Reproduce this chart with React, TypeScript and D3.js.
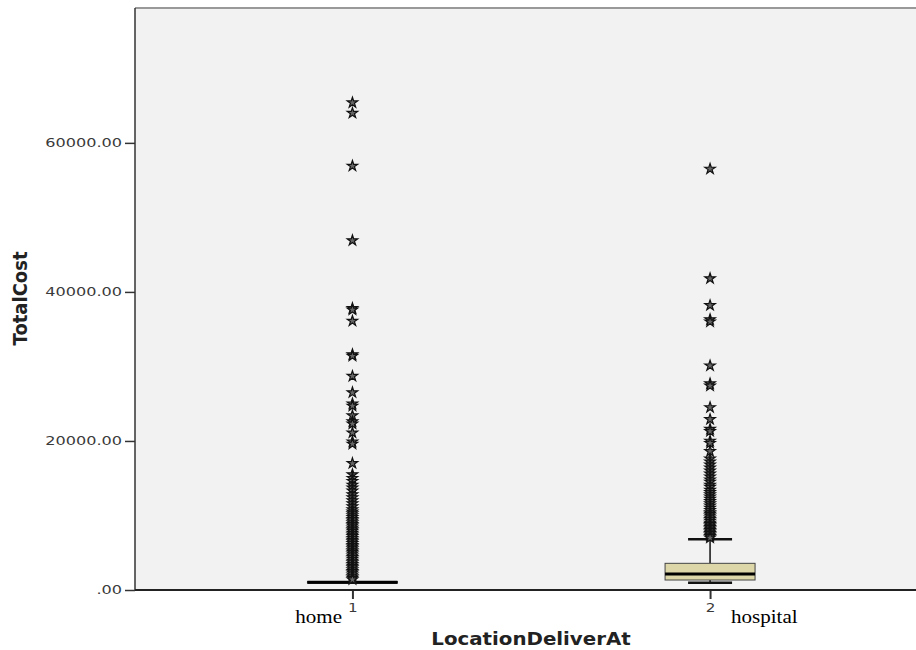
import React, { useEffect, useRef } from 'react';
import * as d3 from 'd3';

// group codes on the x axis and their hand-written names
const groups = ['1', '2'];
const groupNames = ['home', 'hospital'];

// box summaries (TotalCost)
const lowerWhisker = [1050, 980];
const quartile1 = [1050, 1340];
const medians = [1050, 2150];
const quartile3 = [1050, 3580];
const upperWhisker = [1050, 6800];

// extreme values (stars)
const homeExtremes = [
  65400, 64000, 56900, 46900, 37800, 37600, 36100, 31600, 31400, 28700, 26500,
  25000, 24700, 23400, 22600, 22300, 21100, 19900, 19600, 17000, 15500, 15000,
  14600, 14100, 13700, 13300, 12800, 12400, 12000, 11600, 11200, 10800, 10500,
  10250, 10000, 9750, 9500, 9300, 9050, 8800, 8600, 8350, 8100, 7900, 7650,
  7400, 7200, 6950, 6700, 6500, 6250, 6000, 5800, 5550, 5300, 5100, 4850, 4600,
  4400, 4150, 3900, 3700, 3450, 3200, 3000, 2750, 2500, 2300, 2050, 1800, 1600,
  1400,
];
const hospitalExtremes = [
  56500, 41800, 38200, 36300, 36000, 30100, 27700, 27400, 24500, 22900, 21600,
  21300, 20000, 19700, 18600, 17600, 17200, 16800, 16400, 16000, 15600, 15200,
  14800, 14500, 14100, 13800, 13400, 13100, 12800, 12500, 12200, 11900, 11600,
  11300, 11000, 10700, 10400, 10200, 9950, 9700, 9500, 9250, 9000, 8800, 8600,
  8400, 8200, 8000, 7800, 7600, 7400, 7200, 7000,
];
const extremes = [homeExtremes, hospitalExtremes];

const yTicks = [0, 20000, 40000, 60000];

const App = () => {
  const ref = useRef<SVGSVGElement | null>(null);

  useEffect(() => {
    document.body.style.margin = '0';
    const svg = d3.select(ref.current);
    svg.selectAll('*').remove();

    const left = 135;
    const top = 8;
    const bottom = 590;
    const right = 927.5;
    const stretch = 1.1; // the original picture is widened a little

    const x = d3.scalePoint<string>().domain(groups).range([left, right]).padding(0.608);
    const y = d3.scaleLinear().domain([0, 78100]).range([bottom, top]);

    // plot background + frame
    svg
      .append('rect')
      .attr('x', left)
      .attr('y', top)
      .attr('width', right - left)
      .attr('height', bottom - top)
      .attr('fill', '#f2f2f2');
    svg
      .append('line')
      .attr('x1', left)
      .attr('x2', right)
      .attr('y1', top)
      .attr('y2', top)
      .attr('stroke', '#999')
      .attr('stroke-width', 2);

    // y axis
    const yAxis = svg
      .append('g')
      .attr('transform', `translate(${left},0)`)
      .call(
        d3
          .axisLeft(y)
          .tickValues(yTicks)
          .tickSize(10)
          .tickFormat((d) => (+d === 0 ? '.00' : d3.format('.2f')(+d)))
      );
    yAxis.select('.domain').remove();
    yAxis.selectAll('line').attr('stroke', '#333').attr('stroke-width', 1.5);
    yAxis
      .selectAll('text')
      .attr('x', null)
      .attr('transform', 'translate(-13,0) scale(1.4,1)')
      .attr('fill', '#3a3a3a')
      .style('font-family', 'DejaVu Sans')
      .style('font-size', '11.5px');

    // x axis
    const xAxis = svg
      .append('g')
      .attr('transform', `translate(0,${bottom})`)
      .call(d3.axisBottom(x).tickSize(9));
    xAxis.select('.domain').remove();
    xAxis.selectAll('line').attr('stroke', '#333').attr('stroke-width', 2);
    xAxis
      .selectAll('text')
      .attr('y', null)
      .attr('dy', null)
      .attr('transform', 'translate(0,22) scale(1.17,1)')
      .attr('fill', '#3a3a3a')
      .style('font-family', 'DejaVu Sans')
      .style('font-size', '13px');

    // axis lines
    svg
      .append('line')
      .attr('x1', left)
      .attr('x2', left)
      .attr('y1', top)
      .attr('y2', bottom)
      .attr('stroke', '#333')
      .attr('stroke-width', 1.5);
    svg
      .append('line')
      .attr('x1', left)
      .attr('x2', right)
      .attr('y1', bottom)
      .attr('y2', bottom)
      .attr('stroke', '#222')
      .attr('stroke-width', 2);

    const boxHalf = 45;
    const capHalf = [45, 22];

    groups.forEach((g, i) => {
      const cx = x(g) as number;
      const grp = svg.append('g');

      // whiskers
      grp
        .append('line')
        .attr('x1', cx)
        .attr('x2', cx)
        .attr('y1', y(quartile3[i]))
        .attr('y2', y(upperWhisker[i]))
        .attr('stroke', '#111')
        .attr('stroke-width', 1.5);
      grp
        .append('line')
        .attr('x1', cx)
        .attr('x2', cx)
        .attr('y1', y(quartile1[i]))
        .attr('y2', y(lowerWhisker[i]))
        .attr('stroke', '#111')
        .attr('stroke-width', 1.5);
      [upperWhisker[i], lowerWhisker[i]].forEach((v) => {
        grp
          .append('line')
          .attr('x1', cx - capHalf[i])
          .attr('x2', cx + capHalf[i])
          .attr('y1', y(v))
          .attr('y2', y(v))
          .attr('stroke', '#111')
          .attr('stroke-width', 2.5);
      });

      // box
      grp
        .append('rect')
        .attr('x', cx - boxHalf)
        .attr('y', y(quartile3[i]))
        .attr('width', boxHalf * 2)
        .attr('height', Math.max(0.5, y(quartile1[i]) - y(quartile3[i])))
        .attr('fill', '#dcd6a8')
        .attr('stroke', '#444')
        .attr('stroke-width', 1);
      grp
        .append('line')
        .attr('x1', cx - boxHalf)
        .attr('x2', cx + boxHalf)
        .attr('y1', y(medians[i]))
        .attr('y2', y(medians[i]))
        .attr('stroke', '#000')
        .attr('stroke-width', 3);

      // extreme values
      const star = d3.symbol().type(d3.symbolStar).size(34);
      grp
        .selectAll('path.star')
        .data(extremes[i])
        .enter()
        .append('path')
        .attr('class', 'star')
        .attr('d', star)
        .attr('transform', (d) => `translate(${cx},${y(d)})`)
        .attr('fill', '#666')
        .attr('stroke', '#111')
        .attr('stroke-width', 1.2);
    });

    // group names (serif, added on top of the chart)
    svg
      .append('text')
      .attr('transform', 'translate(342,623) scale(1.17,1)')
      .attr('text-anchor', 'end')
      .style('font-family', 'Liberation Serif')
      .style('font-size', '18px')
      .text(groupNames[0]);
    svg
      .append('text')
      .attr('transform', 'translate(731,623) scale(1.17,1)')
      .attr('text-anchor', 'start')
      .style('font-family', 'Liberation Serif')
      .style('font-size', '18px')
      .text(groupNames[1]);

    // axis titles
    svg
      .append('text')
      .attr('transform', `translate(531,645) scale(${stretch},1)`)
      .attr('text-anchor', 'middle')
      .attr('fill', '#222')
      .style('font-family', 'DejaVu Sans')
      .style('font-weight', 'bold')
      .style('font-size', '18px')
      .text('LocationDeliverAt');
    svg
      .append('text')
      .attr('transform', `translate(27,298.5) scale(${stretch},1) rotate(-90)`)
      .attr('text-anchor', 'middle')
      .attr('fill', '#222')
      .style('font-family', 'DejaVu Sans')
      .style('font-weight', 'bold')
      .style('font-size', '18px')
      .text('TotalCost');
  }, []);

  return <svg ref={ref} width={916} height={650} style={{ display: 'block', background: '#fff' }} />;
};

export default App;
